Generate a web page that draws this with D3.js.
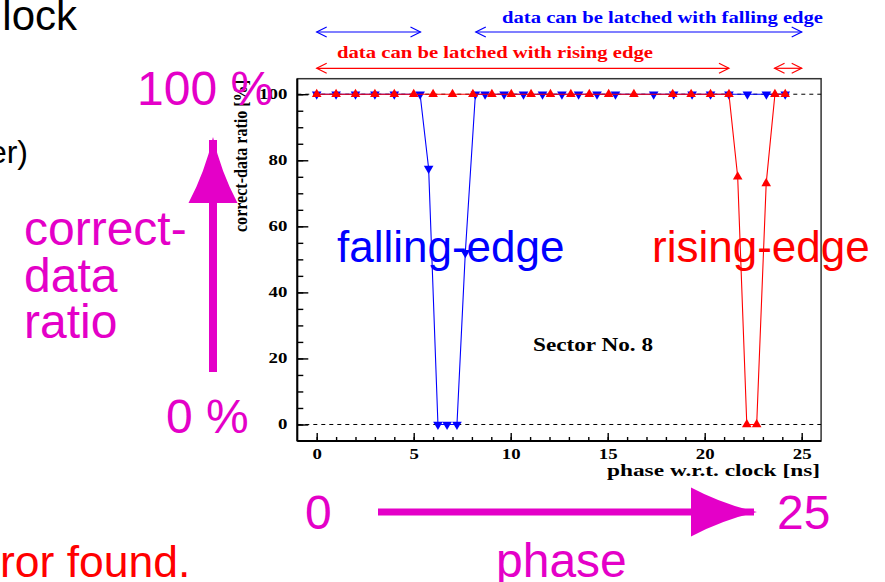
<!DOCTYPE html>
<html>
<head>
<meta charset="utf-8">
<script src="https://cdn.jsdelivr.net/npm/d3@7"></script>
<style>
	body { margin: 0; background: #fff; }
	svg { display: block; }
</style>
</head>
<body>
<svg id="chart" width="885" height="582"></svg>
<script>
// falling-edge scan (blue, down triangles)
const fallX = [0, 1, 2, 3, 4, 5.33, 5.77, 6.25, 6.72, 7.23, 7.66, 8.18, 8.68, 9.66, 10.66, 11.64, 12.64, 13.5, 14.45, 15.4, 17.37, 18.4, 19.35, 20.3, 21.25, 22.2, 23.18, 24.15]
const fallY = [100, 100, 100, 100, 100, 100, 77.5, 0, 0, 0, 52, 100, 100, 100, 100, 100, 100, 100, 100, 100, 100, 100, 100, 100, 100, 100, 100, 100]
// rising-edge scan (red, up triangles)
const riseX = [0, 1, 2, 3, 4, 5, 6, 7, 8.05, 9.03, 10.03, 11.05, 12.05, 13.1, 14.05, 15.05, 16.35, 18.35, 19.3, 20.3, 21.25, 21.7, 22.17, 22.68, 23.17, 23.62, 24.15]
const riseY = [100, 100, 100, 100, 100, 100, 100, 100, 100, 100, 100, 100, 100, 100, 100, 100, 100, 100, 100, 100, 100, 75, 0, 0, 73, 100, 100]

const xTicks = [0, 5, 10, 15, 20, 25]
const yTicks = [0, 20, 40, 60, 80, 100]
const dashedLevels = [0, 100]

// ranges where data can be latched (ns)
const fallSpans = [[0, 5.35], [8.2, 25]]
const riseSpans = [[0, 21.25], [23.6, 25]]

const svg = d3.select('#chart')
const serif = "'Liberation Serif', 'Times New Roman', serif"
const sans = "'Liberation Sans', Arial, Helvetica, sans-serif"
const magenta = '#e400c8'

const x = d3.scaleLinear().domain([-1, 26]).range([297.3, 821.1])
const y = d3.scaleLinear().domain([-5, 104.7]).range([441, 78.7])

// frame
svg.append('rect')
	.attr('x', x(-1)).attr('y', y(104.7))
	.attr('width', x(26) - x(-1)).attr('height', y(-5) - y(104.7))
	.attr('fill', 'none').attr('stroke', '#333').attr('stroke-width', 1.5)

// dashed reference lines
svg.append('g').selectAll('line').data(dashedLevels).enter().append('line')
	.attr('x1', x(-1)).attr('x2', x(26))
	.attr('y1', (d) => y(d)).attr('y2', (d) => y(d))
	.attr('stroke', '#000').attr('stroke-width', 1).attr('stroke-dasharray', '4,4')

// axes (ROOT text is wide, so the labels get stretched)
const plainTicks = (g) => {
	g.select('.domain').remove()
	g.selectAll('line').attr('stroke', '#000').attr('stroke-width', 1.4)
}
const styleAxis = (g) => {
	plainTicks(g)
	g.attr('font-family', serif).attr('font-size', 14).attr('font-weight', 'bold')
	g.selectAll('text')
		.attr('textLength', (d) => String(d).length * 9.4)
		.attr('lengthAdjust', 'spacingAndGlyphs')
}

svg.append('g').attr('transform', `translate(0,${y(-5)})`)
	.call(d3.axisBottom(x).tickValues(d3.range(0, 26, 1)).tickSize(-4).tickFormat(''))
	.call(plainTicks)
svg.append('g').attr('transform', `translate(0,${y(-5)})`)
	.call(d3.axisBottom(x).tickValues(xTicks).tickSize(-8).tickPadding(8).tickFormat(d3.format('d')))
	.call(styleAxis)
svg.append('g').attr('transform', `translate(${x(-1)},0)`)
	.call(d3.axisLeft(y).tickValues(d3.range(0, 101, 5)).tickSize(-6).tickFormat(''))
	.call(plainTicks)
svg.append('g').attr('transform', `translate(${x(-1)},0)`)
	.call(d3.axisLeft(y).tickValues(yTicks).tickSize(-11).tickPadding(10).tickFormat(d3.format('d')))
	.call(styleAxis)

svg.append('line')
	.attr('x1', x(-1)).attr('x2', x(-1)).attr('y1', y(104.7)).attr('y2', y(-5))
	.attr('stroke', '#000').attr('stroke-width', 2)
svg.append('line')
	.attr('x1', x(-1)).attr('x2', x(26)).attr('y1', y(-5)).attr('y2', y(-5))
	.attr('stroke', '#000').attr('stroke-width', 2)

// axis titles
const rootText = (txt, px, py, size, len, color) => svg.append('text')
	.attr('x', px).attr('y', py)
	.attr('font-family', serif).attr('font-weight', 'bold').attr('font-size', size)
	.attr('fill', color || '#000')
	.attr('textLength', len).attr('lengthAdjust', 'spacingAndGlyphs')
	.text(txt)

svg.append('text')
	.attr('transform', 'translate(247,80) rotate(-90)')
	.attr('text-anchor', 'end')
	.attr('font-family', serif).attr('font-weight', 'bold').attr('font-size', 18)
	.attr('textLength', 152).attr('lengthAdjust', 'spacingAndGlyphs')
	.text('correct-data ratio [%]')
rootText('phase w.r.t. clock [ns]', 607, 476, 17, 213)
rootText('Sector No. 8', 533, 351, 18, 120)

// latch ranges
const chevron = (px, py, dir) => `M${px - dir * 10},${py - 5}L${px},${py}L${px - dir * 10},${py + 5}`
const drawSpans = (spans, yPos, color) => {
	const gs = svg.append('g').selectAll('g').data(spans).enter().append('g')
		.attr('fill', 'none').attr('stroke', color).attr('stroke-width', 1.2)
	gs.append('line')
		.attr('x1', (d) => x(d[0])).attr('x2', (d) => x(d[1]))
		.attr('y1', yPos).attr('y2', yPos)
	gs.append('path').attr('d', (d) => chevron(x(d[0]), yPos, -1))
	gs.append('path').attr('d', (d) => chevron(x(d[1]), yPos, 1))
}
drawSpans(fallSpans, 32, '#0000ff')
drawSpans(riseSpans, 68.3, '#ff0000')

rootText('data can be latched with falling edge', 502, 22.5, 17, 321, '#0000ff')
rootText('data can be latched with rising edge', 337, 57.5, 17, 316, '#ff0000')

// data series
const drawSeries = (xs, ys, color, flip) => {
	const pts = xs.map((v, i) => [v, ys[i]])
	const line = d3.line().x((d) => x(d[0])).y((d) => y(d[1]))
	svg.append('path').datum(pts)
		.attr('d', line).attr('fill', 'none').attr('stroke', color).attr('stroke-width', 1.1)
	svg.append('g').selectAll('path').data(pts).enter().append('path')
		.attr('d', d3.symbol(d3.symbolTriangle, 40))
		.attr('transform', (d) => `translate(${x(d[0])},${y(d[1])})${flip ? ' rotate(180)' : ''}`)
		.attr('fill', color)
}
drawSeries(fallX, fallY, '#0000ff', true)
drawSeries(riseX, riseY, '#ff0000', false)

// slide annotations on top
const label = (txt, px, py, size, color, anchor) => svg.append('text')
	.attr('x', px).attr('y', py)
	.attr('font-family', sans).attr('font-size', size).attr('fill', color)
	.attr('text-anchor', anchor || 'start')
	.text(txt)

label('lock', 77, 30, 42, '#000', 'end')
label('er)', 28, 163, 32, '#000', 'end')
label('100 %', 137, 105, 48, magenta)
label('0 %', 166, 433, 48, magenta)
label('correct-', 24, 245, 48, magenta)
label('data', 24, 292, 48, magenta)
label('ratio', 24, 338, 48, magenta)
label('falling-edge', 337, 262, 44, '#0000ff')
label('rising-edge', 652, 262, 44, '#ff0000')
label('0', 305, 529, 48, magenta)
label('25', 777, 529, 48, magenta)
label('phase', 496, 577, 48, magenta)
label('ror found.', 0, 577, 44.5, '#ff0000')

// big magenta arrows
const head = (tx, ty, ux, uy) => {
	// tip at (tx, ty), (ux, uy) points from tip back toward the tail
	const px = -uy, py = ux
	const pt = (d, w) => `${tx + ux * d + px * w},${ty + uy * d + py * w}`
	return `M${pt(0, 0)}Q${pt(35, 8)} ${pt(66, 24.5)}L${pt(66, -24.5)}Q${pt(35, -8)} ${pt(0, 0)}Z`
}
svg.append('line').attr('x1', 213).attr('x2', 213).attr('y1', 372).attr('y2', 140)
	.attr('stroke', magenta).attr('stroke-width', 8)
svg.append('path').attr('d', head(213, 137, 0, 1)).attr('fill', magenta)
svg.append('line').attr('x1', 378).attr('x2', 754).attr('y1', 512).attr('y2', 512)
	.attr('stroke', magenta).attr('stroke-width', 7)
svg.append('path').attr('d', head(757, 512, -1, 0)).attr('fill', magenta)
</script>
</body>
</html>
